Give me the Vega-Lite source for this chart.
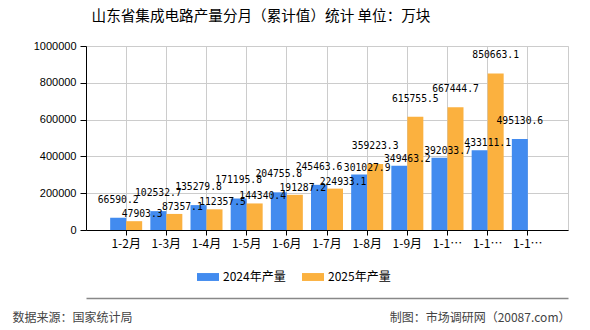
{
  "$schema": "https://vega.github.io/schema/vega-lite/v6.json",
  "width": 482,
  "height": 184,
  "autosize": {"type": "none"},
  "padding": {"left": 86, "top": 46, "right": 22, "bottom": 100},
  "background": "white",
  "title": {
    "text": "山东省集成电路产量分月（累计值）统计 单位：万块",
    "anchor": "middle",
    "frame": "group",
    "dx": -66,
    "offset": 16,
    "fontSize": 14.6,
    "fontWeight": "normal",
    "font": "Noto Sans CJK SC",
    "color": "#000"
  },
  "config": {
    "view": {"stroke": "#cccccc"},
    "axis": {"labelFont": "Noto Sans CJK SC", "titleFont": "Noto Sans CJK SC"}
  },
  "data": {
    "values": [
      {"m": "1-2月", "s": "2024年产量", "v": 66590.2},
      {"m": "1-3月", "s": "2024年产量", "v": 102532.7},
      {"m": "1-4月", "s": "2024年产量", "v": 135279.8},
      {"m": "1-5月", "s": "2024年产量", "v": 171195.8},
      {"m": "1-6月", "s": "2024年产量", "v": 204755.8},
      {"m": "1-7月", "s": "2024年产量", "v": 245463.6},
      {"m": "1-8月", "s": "2024年产量", "v": 301027.9},
      {"m": "1-9月", "s": "2024年产量", "v": 349463.2},
      {"m": "1-10月", "s": "2024年产量", "v": 392033.7},
      {"m": "1-11月", "s": "2024年产量", "v": 433111.1},
      {"m": "1-12月", "s": "2024年产量", "v": 495130.6},
      {"m": "1-2月", "s": "2025年产量", "v": 47903.3},
      {"m": "1-3月", "s": "2025年产量", "v": 87357.1},
      {"m": "1-4月", "s": "2025年产量", "v": 112357.5},
      {"m": "1-5月", "s": "2025年产量", "v": 144340.4},
      {"m": "1-6月", "s": "2025年产量", "v": 191287.2},
      {"m": "1-7月", "s": "2025年产量", "v": 224933.1},
      {"m": "1-8月", "s": "2025年产量", "v": 359223.3},
      {"m": "1-9月", "s": "2025年产量", "v": 615755.5},
      {"m": "1-10月", "s": "2025年产量", "v": 667444.7},
      {"m": "1-11月", "s": "2025年产量", "v": 850663.1}
    ]
  },
  "encoding": {
    "x": {
      "field": "m",
      "type": "nominal",
      "sort": ["1-2月", "1-3月", "1-4月", "1-5月", "1-6月", "1-7月", "1-8月", "1-9月", "1-10月", "1-11月", "1-12月"],
      "scale": {"paddingInner": 0, "paddingOuter": 0.5}
    },
    "xOffset": {
      "field": "s",
      "type": "nominal",
      "scale": {"domain": ["2024年产量", "2025年产量"], "paddingInner": 0, "paddingOuter": 0.255}
    },
    "y": {
      "field": "v",
      "type": "quantitative",
      "scale": {"domain": [0, 1000000], "nice": false},
      "axis": {
        "title": null,
        "values": [0, 200000, 400000, 600000, 800000, 1000000],
        "format": "d",
        "labelFont": "Liberation Sans",
        "labelFontSize": 11,
        "labelColor": "#000",
        "labelPadding": 4,
        "tickColor": "#000",
        "tickSize": 6,
        "domainColor": "#000",
        "gridColor": "#cccccc"
      }
    }
  },
  "layer": [
    {
      "mark": {"type": "bar"},
      "encoding": {
        "color": {
          "field": "s",
          "type": "nominal",
          "scale": {"domain": ["2024年产量", "2025年产量"], "range": ["#428BEF", "#FBB13F"]},
          "legend": {
            "title": null,
            "orient": "none",
            "legendX": 111,
            "legendY": 220,
            "direction": "horizontal",
            "symbolType": "M-1,-0.36H1V0.36H-1Z",
            "symbolSize": 484,
            "symbolStrokeWidth": 0,
            "symbolOpacity": 1,
            "labelFont": "Noto Sans CJK SC",
            "labelFontSize": 12,
            "labelColor": "#000",
            "labelOffset": 4,
            "columnPadding": 16,
            "padding": 0
          }
        },
        "x": {
          "field": "m",
          "type": "nominal",
          "sort": ["1-2月", "1-3月", "1-4月", "1-5月", "1-6月", "1-7月", "1-8月", "1-9月", "1-10月", "1-11月", "1-12月"],
          "axis": {
            "title": "数据来源：国家统计局",
            "titleX": -74,
            "titleY": 87,
            "titleAnchor": "start",
            "titleAlign": "left",
            "titleBaseline": "middle",
            "titleFontSize": 12,
            "titleFontWeight": "normal",
            "titleColor": "#444",
            "labelAngle": 0,
            "labelFontSize": 12,
            "labelColor": "#000",
            "labelLimit": 33,
            "labelPadding": 3,
            "tickColor": "#000",
            "tickSize": 5,
            "domainColor": "#000",
            "grid": true,
            "gridColor": "#cccccc",
            "bandPosition": 0.5
          }
        }
      }
    },
    {
      "transform": [
        {"joinaggregate": [{"op": "max", "field": "v", "as": "mx"}], "groupby": ["m"]},
        {"filter": "datum.v == datum.mx"}
      ],
      "mark": {"type": "text", "baseline": "bottom", "dy": -13, "font": "DejaVu Sans Mono", "fontSize": 9.7, "color": "#000"},
      "encoding": {
        "text": {"field": "v", "type": "quantitative", "format": ".1f"},
        "x": {
          "field": "m",
          "type": "nominal",
          "sort": ["1-2月", "1-3月", "1-4月", "1-5月", "1-6月", "1-7月", "1-8月", "1-9月", "1-10月", "1-11月", "1-12月"],
          "axis": {
            "orient": "bottom",
            "offset": 68,
            "labels": false,
            "ticks": false,
            "grid": false,
            "domainColor": "#888",
            "domainWidth": 1.5,
            "title": "制图：市场调研网（20087.com）",
            "titleX": 484,
            "titleY": 19,
            "titleAnchor": "end",
            "titleAlign": "right",
            "titleBaseline": "middle",
            "titleFontSize": 12,
            "titleFontWeight": "normal",
            "titleColor": "#444"
          }
        }
      }
    },
    {
      "transform": [
        {"joinaggregate": [{"op": "max", "field": "v", "as": "mx"}], "groupby": ["m"]},
        {"filter": "datum.v < datum.mx"}
      ],
      "mark": {"type": "text", "baseline": "bottom", "dy": -2, "dx": 8, "font": "DejaVu Sans Mono", "fontSize": 9.7, "color": "#000"},
      "encoding": {
        "text": {"field": "v", "type": "quantitative", "format": ".1f"},
        "x": {
          "field": "m",
          "type": "nominal",
          "sort": ["1-2月", "1-3月", "1-4月", "1-5月", "1-6月", "1-7月", "1-8月", "1-9月", "1-10月", "1-11月", "1-12月"],
          "axis": null
        }
      }
    }
  ],
  "resolve": {"axis": {"x": "independent"}}
}
